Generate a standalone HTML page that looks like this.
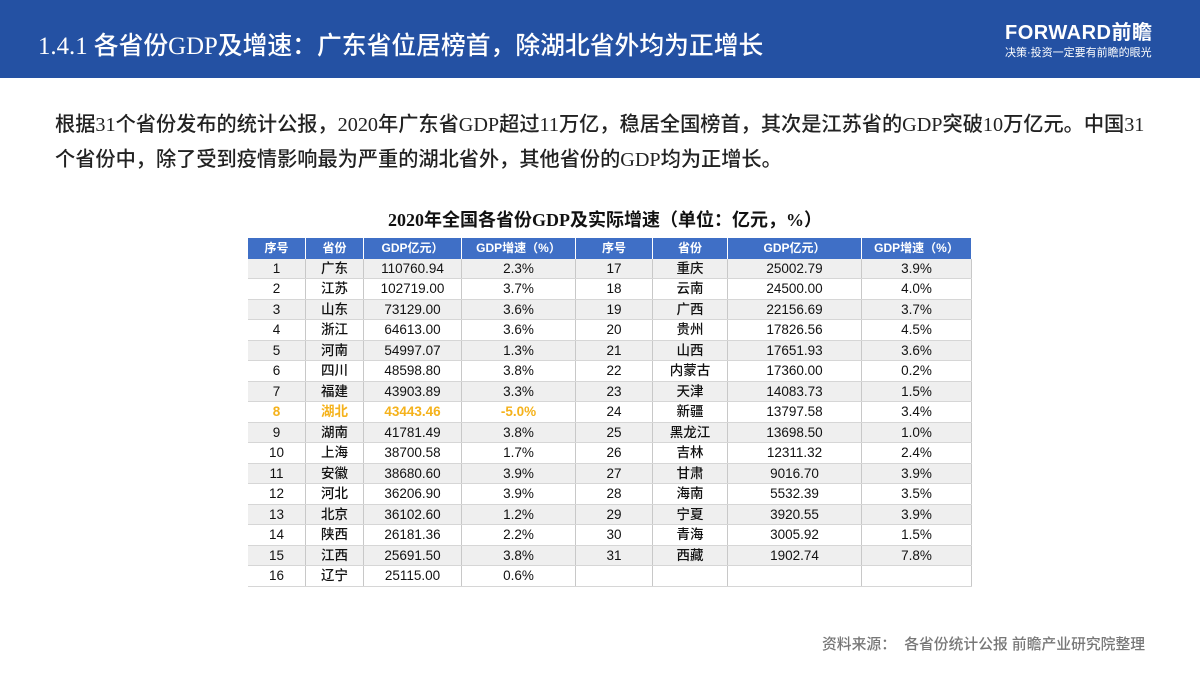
<!DOCTYPE html>
<html><head><meta charset="utf-8"><style>
*{margin:0;padding:0;box-sizing:border-box}
body{width:1200px;height:675px;position:relative;background:#fff;font-family:"Liberation Serif","Noto Sans CJK SC",serif;overflow:hidden}
#banner{position:absolute;left:0;top:0;width:1200px;height:78px;background:#2451a3}
#title{position:absolute;left:38px;top:26px;color:#fff;font-size:24.8px;white-space:nowrap;font-weight:500}
#logo{position:absolute;left:1005px;top:16px;color:#fff;font-family:"Liberation Sans","Noto Sans CJK SC",sans-serif;font-size:20px;font-weight:bold;letter-spacing:0.5px}
#slogan{position:absolute;left:1005px;top:44px;color:#fff;font-family:"Liberation Sans","Noto Sans CJK SC",sans-serif;font-size:11px;white-space:nowrap}
.para{position:absolute;left:55px;color:#222;font-size:20.2px;white-space:nowrap;font-weight:500}
#ttitle{position:absolute;left:0;width:1210px;top:206px;text-align:center;font-size:18px;font-weight:bold;color:#111}
#tbl{position:absolute;left:247px;top:238px;font-family:"Liberation Sans","Noto Sans CJK SC",sans-serif}
.r{position:absolute;left:0;height:20.5px;width:724px}
.c{position:absolute;top:0;height:100%;text-align:center;font-size:13.5px;line-height:20px;border-right:1px solid #c8c8c8;color:#111;font-weight:500}
.h .c{color:#fff;font-weight:bold;font-size:12px;border-right:1px solid #fff}
#src{position:absolute;left:822px;top:633px;color:#777;font-family:"Liberation Sans","Noto Sans CJK SC",sans-serif;font-size:14.8px;white-space:nowrap;font-weight:500}
</style></head><body>
<div id="banner"></div>
<div id="title">1.4.1 各省份GDP及增速：广东省位居榜首，除湖北省外均为正增长</div>
<div id="logo">FORWARD前瞻</div>
<div id="slogan">决策·投资一定要有前瞻的眼光</div>
<div class="para" style="top:108px">根据31个省份发布的统计公报，2020年广东省GDP超过11万亿，稳居全国榜首，其次是江苏省的GDP突破10万亿元。中国31</div>
<div class="para" style="top:143px">个省份中，除了受到疫情影响最为严重的湖北省外，其他省份的GDP均为正增长。</div>
<div id="ttitle">2020年全国各省份GDP及实际增速（单位：亿元，%）</div>
<div id="tbl"></div>
<div id="src">资料来源：&nbsp; 各省份统计公报 前瞻产业研究院整理</div>
<script>
const provinces=["广东","江苏","山东","浙江","河南","四川","福建","湖北","湖南","上海","安徽","河北","北京","陕西","江西","辽宁","重庆","云南","广西","贵州","山西","内蒙古","天津","新疆","黑龙江","吉林","甘肃","海南","宁夏","青海","西藏"];
const gdp=["110760.94","102719.00","73129.00","64613.00","54997.07","48598.80","43903.89","43443.46","41781.49","38700.58","38680.60","36206.90","36102.60","26181.36","25691.50","25115.00","25002.79","24500.00","22156.69","17826.56","17651.93","17360.00","14083.73","13797.58","13698.50","12311.32","9016.70","5532.39","3920.55","3005.92","1902.74"];
const growth=["2.3%","3.7%","3.6%","3.6%","1.3%","3.8%","3.3%","-5.0%","3.8%","1.7%","3.9%","3.9%","1.2%","2.2%","3.8%","0.6%","3.9%","4.0%","3.7%","4.5%","3.6%","0.2%","1.5%","3.4%","1.0%","2.4%","3.9%","3.5%","3.9%","1.5%","7.8%"];
const headers=["序号","省份","GDP亿元）","GDP增速（%）","序号","省份","GDP亿元）","GDP增速（%）"];
const colL=[0,58,116,214,328,405,480,614];
const colW=[58,58,98,114,77,75,134,110];
const tbl=document.getElementById('tbl');
function mkRow(y,bg,cls){const r=document.createElement('div');r.className='r '+cls;r.style.top=y+'px';r.style.background=bg;tbl.appendChild(r);return r;}
function mkCell(r,i,t,color){const c=document.createElement('div');c.className='c';c.style.left=colL[i]+'px';c.style.width=colW[i]+'px';c.textContent=t;if(color){c.style.color=color;c.style.fontWeight='bold';}r.appendChild(c);return c;}
const h=mkRow(0,'#3f6fc6','h');


headers.forEach((t,i)=>{const c=mkCell(h,i,t);

});
for(let k=0;k<16;k++){
  const r=mkRow(20.5+k*20.5,k%2===0?'#efefef':'#fff','');
  r.style.borderBottom='1px solid #d6d6d6';
  
  
  const col=(k===7)?'#f5b21b':null;
  const vals=[String(k+1),provinces[k],gdp[k],growth[k]];
  const j=k+16;
  const vals2=j<provinces.length?[String(j+1),provinces[j],gdp[j],growth[j]]:["","","",""];
  vals.concat(vals2).forEach((t,i)=>{const c=mkCell(r,i,t,i<4?col:null);
  
  });
}
tbl.style.borderLeft='1px solid #c8c8c8';
</script>
</body></html>
